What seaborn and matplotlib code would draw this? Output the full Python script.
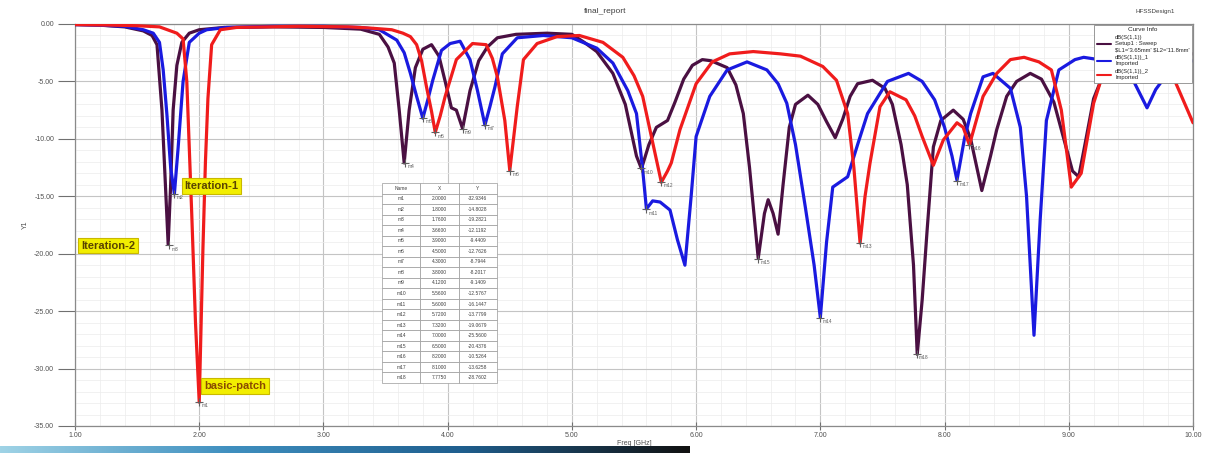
import numpy as np
import pandas as pd
import seaborn as sns
import matplotlib.pyplot as plt
from matplotlib.ticker import MultipleLocator, FormatStrFormatter
from matplotlib.lines import Line2D

# --- data (Freq [GHz], dB(S(1,1))) ---
freq_iter2 = [1.00, 1.20, 1.40, 1.55, 1.62, 1.66, 1.70, 1.73, 1.75, 1.77, 1.79, 1.82, 1.86, 1.92,
              2.00, 2.20, 2.60, 3.00, 3.30, 3.45, 3.52, 3.57, 3.61, 3.65, 3.69, 3.74, 3.80, 3.87,
              3.93, 3.98, 4.03, 4.07, 4.12, 4.18, 4.25, 4.32, 4.40, 4.55, 4.80, 5.00, 5.10, 5.20,
              5.33, 5.43, 5.52, 5.56, 5.62, 5.68, 5.77, 5.83, 5.90, 5.97, 6.05, 6.12, 6.25, 6.32,
              6.38, 6.43, 6.50, 6.55, 6.58, 6.62, 6.66, 6.70, 6.75, 6.80, 6.90, 6.98, 7.05, 7.12,
              7.18, 7.24, 7.30, 7.42, 7.52, 7.58, 7.65, 7.70, 7.75, 7.78, 7.82, 7.86, 7.91, 7.97,
              8.07, 8.15, 8.21, 8.30, 8.37, 8.42, 8.50, 8.58, 8.69, 8.78, 8.88, 8.96, 9.03, 9.08,
              9.13, 9.20, 9.30, 9.50, 9.70, 10.00]
s11_iter2 = [-0.05, -0.10, -0.25, -0.6, -1.0, -1.8, -7.5, -14.5, -19.2, -14.0, -7.5, -3.6, -1.6, -0.8,
             -0.5, -0.3, -0.25, -0.3, -0.45, -0.9, -2.0, -3.4, -7.5, -12.1, -7.5, -3.8, -2.2, -1.8,
             -2.8, -5.0, -7.3, -7.5, -9.1, -5.8, -3.2, -2.0, -1.2, -0.9, -0.8, -0.9, -1.6, -2.4,
             -4.3, -7.0, -11.5, -12.6, -10.5, -9.0, -8.4, -6.8, -4.8, -3.6, -3.1, -3.2, -3.8, -5.3,
             -7.8, -12.5, -20.4, -16.5, -15.3, -16.5, -18.3, -14.0, -9.0, -7.0, -6.2, -7.0, -8.5, -9.9,
             -8.3, -6.3, -5.2, -4.9, -5.6, -7.0, -10.5, -14.0, -21.0, -28.76, -24.0, -17.9, -10.7, -8.4,
             -7.5, -8.3, -10.0, -14.5, -11.5, -9.2, -6.3, -5.0, -4.3, -4.8, -6.8, -10.0, -12.8, -13.3,
             -10.5, -6.5, -3.8, -2.8, -2.5, -2.6]

freq_iter1 = [1.00, 1.20, 1.40, 1.55, 1.63, 1.68, 1.71, 1.74, 1.77, 1.80, 1.83, 1.87, 1.92, 2.00,
              2.06, 2.22, 2.60, 3.00, 3.30, 3.45, 3.59, 3.65, 3.70, 3.75, 3.80, 3.84, 3.88, 3.95,
              4.02, 4.10, 4.18, 4.24, 4.30, 4.34, 4.38, 4.44, 4.56, 4.77, 5.00, 5.20, 5.33, 5.45,
              5.52, 5.57, 5.60, 5.65, 5.71, 5.79, 5.85, 5.91, 5.96, 6.00, 6.11, 6.25, 6.41, 6.57,
              6.66, 6.73, 6.80, 6.88, 6.95, 7.00, 7.05, 7.10, 7.22, 7.30, 7.38, 7.54, 7.71, 7.82,
              7.92, 8.00, 8.06, 8.10, 8.16, 8.21, 8.31, 8.39, 8.53, 8.61, 8.66, 8.72, 8.77, 8.82,
              8.92, 9.05, 9.12, 9.30, 9.50, 9.63, 9.70, 9.85, 10.00]
s11_iter1 = [-0.05, -0.10, -0.2, -0.5, -0.8, -1.6, -4.0, -7.9, -12.5, -14.8, -10.8, -5.0, -1.6, -0.8,
             -0.5, -0.3, -0.2, -0.2, -0.3, -0.5, -1.4, -2.5, -4.3, -6.3, -8.2, -6.6, -4.9, -2.3,
             -1.7, -1.5, -3.1, -5.8, -8.8, -7.2, -5.5, -2.6, -1.2, -1.0, -1.2, -2.1, -3.4, -5.8,
             -7.8, -12.7, -16.1, -15.4, -15.5, -16.2, -18.8, -21.0, -15.0, -9.8, -6.3, -4.0, -3.3, -4.0,
             -5.2, -6.9, -10.5, -16.0, -21.0, -25.56, -19.0, -14.2, -13.3, -10.5, -7.8, -5.0, -4.3, -5.0,
             -6.6, -9.0, -11.5, -13.6, -10.0, -7.8, -4.6, -4.3, -5.6, -9.0, -15.0, -27.1, -17.0, -8.4,
             -4.0, -3.1, -2.9, -3.2, -4.5, -7.3, -5.7, -3.5, -3.2]

freq_basic = [1.00, 1.30, 1.50, 1.68, 1.82, 1.87, 1.90, 1.94, 1.97, 2.00, 2.03, 2.05, 2.07, 2.10,
              2.17, 2.30, 2.80, 3.20, 3.37, 3.55, 3.64, 3.70, 3.75, 3.79, 3.83, 3.87, 3.90, 3.94,
              3.98, 4.07, 4.20, 4.31, 4.36, 4.40, 4.46, 4.50, 4.53, 4.56, 4.61, 4.72, 4.88, 5.06,
              5.25, 5.41, 5.50, 5.57, 5.64, 5.72, 5.77, 5.80, 5.87, 6.00, 6.13, 6.27, 6.46, 6.68,
              6.84, 7.02, 7.13, 7.22, 7.27, 7.32, 7.36, 7.40, 7.48, 7.56, 7.69, 7.76, 7.82, 7.91,
              7.99, 8.10, 8.15, 8.20, 8.31, 8.42, 8.53, 8.64, 8.76, 8.86, 8.94, 9.02, 9.10, 9.20,
              9.30, 9.50, 9.70, 9.86, 10.00]
s11_basic = [-0.05, -0.1, -0.15, -0.25, -0.8, -1.3, -5.0, -16.6, -26.0, -32.93, -19.5, -12.0, -6.5, -1.8,
             -0.5, -0.3, -0.2, -0.25, -0.35, -0.5, -0.8, -1.1, -1.8, -3.2, -5.5, -7.6, -9.44, -8.0,
             -6.3, -3.1, -1.7, -1.8, -3.0, -4.6, -8.4, -12.76, -10.0, -7.2, -3.1, -1.7, -1.1, -1.0,
             -1.6, -2.9, -4.5, -6.3, -9.8, -13.78, -12.8, -12.1, -9.2, -5.2, -3.3, -2.6, -2.4, -2.6,
             -2.8, -3.7, -4.9, -7.8, -12.5, -19.07, -15.0, -12.1, -7.2, -5.9, -6.6, -8.0, -9.8, -12.3,
             -10.1, -8.6, -9.0, -10.53, -6.3, -4.3, -3.1, -2.9, -3.3, -4.0, -7.5, -14.2, -13.0, -6.9,
             -3.5, -2.6, -3.3, -5.1, -8.6]

marker_names = ["m1", "m2", "m3", "m4", "m5", "m6", "m7", "m8", "m9", "m10", "m11", "m12",
                "m13", "m14", "m15", "m16", "m17", "m18"]
marker_x = [2.0000, 1.8000, 1.7600, 3.6600, 3.9000, 4.5000, 4.3000, 3.8000, 4.1200, 5.5600,
            5.6000, 5.7200, 7.3200, 7.0000, 6.5000, 8.2000, 8.1000, 7.7750]
marker_y = [-32.9346, -14.8028, -19.2821, -12.1192, -9.4409, -12.7626, -8.7944, -8.2017, -9.1409,
            -12.5767, -16.1447, -13.7799, -19.0679, -25.5600, -20.4376, -10.5264, -13.6258, -28.7602]

curve_names = ["dB(S(1,1))", "dB(S(1,1))_1", "dB(S(1,1))_2"]
curve_colors = ["#4a1042", "#1a1ae0", "#f01c1c"]

df = pd.concat([
    pd.DataFrame({"freq": freq_iter2, "db": s11_iter2, "curve": curve_names[0]}),
    pd.DataFrame({"freq": freq_iter1, "db": s11_iter1, "curve": curve_names[1]}),
    pd.DataFrame({"freq": freq_basic, "db": s11_basic, "curve": curve_names[2]}),
])

sns.set_theme(style="white")
plt.rcParams['font.family'] = ['Liberation Sans', 'DejaVu Sans']

fig = plt.figure(figsize=(12.1, 4.53), dpi=100)
ax = fig.add_axes([75 / 1210, 1 - 426 / 453, 1118 / 1210, 402 / 453])

sns.lineplot(data=df, x="freq", y="db", hue="curve", hue_order=curve_names,
             palette=curve_colors, linewidth=2.3, sort=False, estimator=None,
             legend=False, ax=ax, zorder=3)

ax.set_xlim(1, 10)
ax.set_ylim(-35, 0)
ax.xaxis.set_major_locator(MultipleLocator(1))
ax.xaxis.set_minor_locator(MultipleLocator(0.2))
ax.yaxis.set_major_locator(MultipleLocator(5))
ax.yaxis.set_minor_locator(MultipleLocator(1))
ax.xaxis.set_major_formatter(FormatStrFormatter('%.2f'))
ax.yaxis.set_major_formatter(FormatStrFormatter('%.2f'))
ax.grid(True, which='major', color='#c4c4c4', linewidth=0.8)
ax.grid(True, which='minor', color='#ececec', linewidth=0.5)
ax.tick_params(axis='y', which='major', direction='out', length=12, width=0.8,
               colors='#707070', labelsize=5, labelcolor='#505050', pad=3)
ax.tick_params(axis='y', which='minor', direction='out', length=6, width=0.6, colors='#909090')
ax.tick_params(axis='x', which='major', direction='inout', length=6, width=0.8,
               colors='#707070', labelsize=5, labelcolor='#505050', pad=1.5)
ax.tick_params(axis='x', which='minor', direction='inout', length=3, width=0.6, colors='#909090')
ax.tick_params(left=True, bottom=True)
for s in ax.spines.values():
    s.set_color('#8a8a8a')
    s.set_linewidth(0.9)
ax.set_xlabel("Freq [GHz]", fontsize=5, color='#505050', labelpad=0.5)
ax.set_ylabel("Y1", fontsize=5, color='#505050', labelpad=4)

# markers
for n, x, y in zip(marker_names, marker_x, marker_y):
    ax.plot(x, y, marker='+', color='#606060', markersize=6, mew=0.8, zorder=4)
    ax.text(x + 0.02, y - 0.1, n, fontsize=3.5, color='#606060', ha='left', va='top', zorder=4)

# marker table
cell_text = [[n, f"{x:.4f}", f"{y:.4f}"] for n, x, y in zip(marker_names, marker_x, marker_y)]
tbl = ax.table(cellText=cell_text, colLabels=["Name", "X", "Y"], cellLoc='center',
               bbox=[(382 - 75) / 1118, (426 - 383) / 402, 115 / 1118, 200 / 402], zorder=5)
tbl.auto_set_font_size(False)
tbl.set_fontsize(3.5)
for c in tbl.get_celld().values():
    c.set_edgecolor('#9a9a9a')
    c.set_linewidth(0.5)
    c.get_text().set_color('#404040')

# callouts
box = dict(boxstyle='square,pad=0.25', facecolor='#f2ee00', edgecolor='#c9b800', linewidth=0.8)
ax.text(1.88, -14.1, "Iteration-1", fontsize=8, fontweight='bold', color='#5a4400', bbox=box, va='center', zorder=6)
ax.text(1.05, -19.3, "Iteration-2", fontsize=8, fontweight='bold', color='#5a4400', bbox=box, va='center', zorder=6)
ax.text(2.04, -31.5, "basic-patch", fontsize=8, fontweight='bold', color='#8a4a00', bbox=box, va='center', zorder=6)

# legend
handles = [Line2D([], [], color=c, linewidth=1.5) for c in curve_colors]
labels = ["dB(S(1,1))\nSetup1 : Sweep\n\\$L1='3.65mm' \\$L2='11.8mm'",
          "dB(S(1,1))_1\nImported", "dB(S(1,1))_2\nImported"]
leg = ax.legend(handles, labels, loc='upper right', bbox_to_anchor=(1.0, 1.0), title="Curve Info",
                fontsize=4.2, title_fontsize=4.6, frameon=True, fancybox=False, framealpha=1,
                edgecolor='#8a8a8a', borderaxespad=0.1, handlelength=2.4, labelspacing=0.55,
                borderpad=0.45)
leg.set_zorder(7)
leg.get_frame().set_linewidth(0.6)

fig.text(0.5, 0.975, "final_report", ha='center', va='center', fontsize=6, color='#404040')
fig.text(0.955, 0.975, "HFSSDesign1", ha='center', va='center', fontsize=4.5, color='#404040')

# slide footer strip
strip = fig.add_axes([0, 0, 0.57, 0.016])
strip.imshow(np.linspace(0, 1, 256)[None, :], aspect='auto', cmap=sns.blend_palette(
    ["#9fd3e6", "#3f8fbf", "#1f5f8f", "#111111"], as_cmap=True))
strip.axis('off')

plt.savefig("out.png", dpi=100)
